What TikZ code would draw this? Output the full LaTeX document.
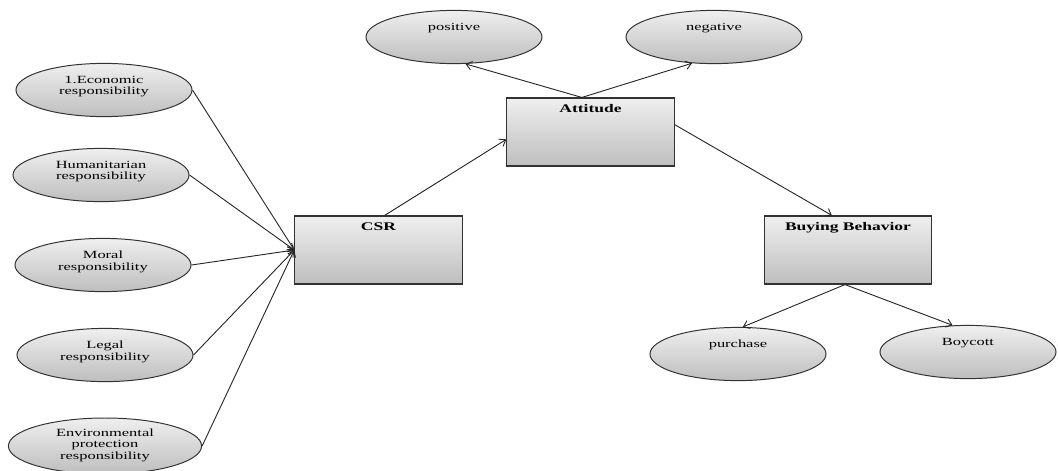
\documentclass[tikz,border=0pt]{standalone}
\usepackage{fontspec}
\newfontfamily\diagfont[FakeStretch=1.5]{Liberation Serif}
\usetikzlibrary{shapes.geometric,arrows.meta}
\definecolor{shadetop}{HTML}{EFEFEF}
\definecolor{shadebot}{HTML}{BEBEBE}
\definecolor{edge}{HTML}{333333}

\begin{document}
\begin{tikzpicture}[x=0.025cm, y=-0.025cm,
  ell/.style={ellipse, draw=edge, line width=0.7pt, top color=shadetop, bottom color=shadebot,
    minimum width=4.4cm, minimum height=1.33cm, inner sep=0pt},
  box/.style={rectangle, draw=edge, line width=0.8pt, top color=shadetop, bottom color=shadebot,
    minimum width=4.18cm, minimum height=1.7cm, inner sep=0pt},
  etxt/.style={anchor=north, inner sep=0pt, yshift=-0.32cm, align=center,
    font=\diagfont\fontsize{7.8}{8.3}\selectfont},
  btxt/.style={anchor=north, inner sep=0pt, yshift=-0.17cm,
    font=\diagfont\fontsize{8.3}{9}\selectfont\bfseries},
  arr/.style={-{Straight Barb[length=4pt,width=6pt]}, draw=black!85, line width=0.65pt}]
\useasboundingbox (0,0) rectangle (1058,470);

% dimensions of CSR
\node[ell, label={[etxt]north:{1.Economic\\responsibility}}] (eco) at (104,90) {};
\node[ell, label={[etxt]north:{Humanitarian\\responsibility}}] (hum) at (101,175) {};
\node[ell, label={[etxt]north:{Moral\\responsibility}}] (mor) at (103,265) {};
\node[ell, label={[etxt]north:{Legal\\responsibility}}] (leg) at (105,355) {};
\node[ell, minimum width=4.83cm, minimum height=1.4cm,
  label={[etxt, yshift=0.05cm]north:{Environmental\\protection\\responsibility}}] (env) at (105,446) {};

% main boxes
\node[box, label={[btxt]north:CSR}] (csr) at (378.5,250) {};
\node[box, label={[btxt]north:Attitude}] (att) at (590.5,132) {};
\node[box, label={[btxt]north:Buying Behavior}] (bb) at (848,250) {};

% outcomes
\node[ell, label={[etxt]north:positive}] (pos) at (454,37) {};
\node[ell, label={[etxt]north:negative}] (neg) at (714,37) {};
\node[ell, label={[etxt]north:purchase}] (pur) at (738,354) {};
\node[ell, label={[etxt]north:Boycott}] (boy) at (968,352) {};

\foreach \s in {eco,hum,mor,leg,env}
  \draw[arr] (\s.east) -- (csr.west);

\draw[arr] (csr.80) -- (att.-175);
\draw[arr] (att.104) -- (pos.-67);
\draw[arr] (att.104) -- (neg.-130);
\draw[arr] (att.5) -- (bb.115);
\draw[arr] (bb.-95) -- (pur.80);
\draw[arr] (bb.-95) -- (boy.120);
\end{tikzpicture}
\end{document}
